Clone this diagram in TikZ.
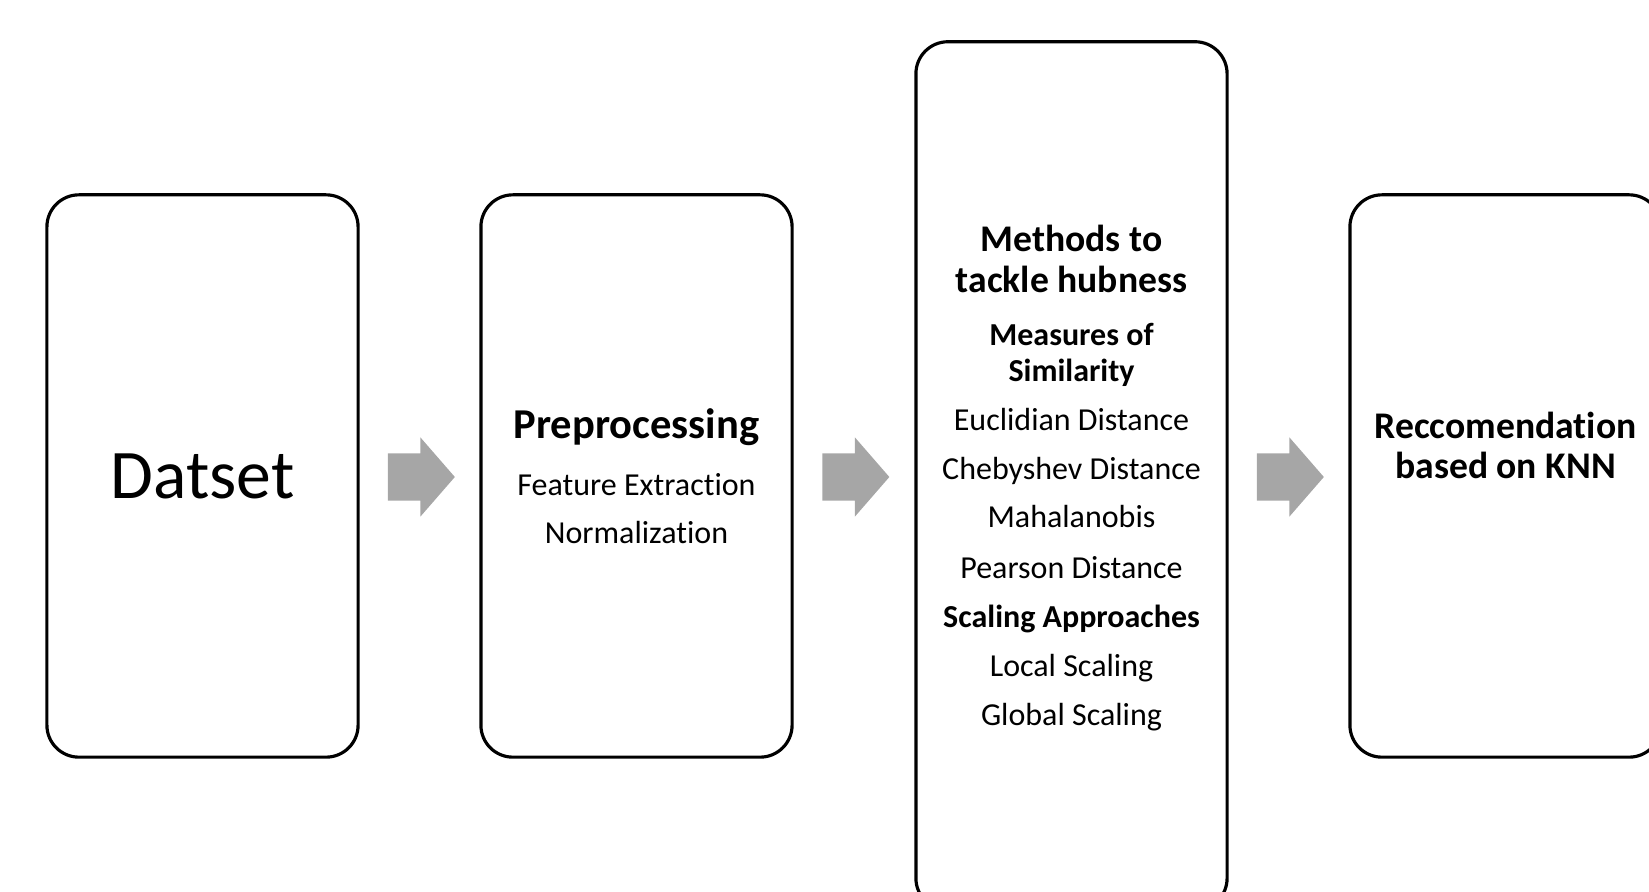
\documentclass[tikz,border=0pt]{standalone}
\usepackage{fontspec}
\setmainfont{Carlito}
\usetikzlibrary{shapes.arrows, positioning, calc}
\definecolor{flowgray}{HTML}{A6A6A6}
% keeps Carlito from joining t and i
\newcommand{\tibreak}{t\kern0pt i}

\begin{document}
\begin{tikzpicture}[
    x=0.01cm, y=-0.01cm,
    stage/.style={draw, line width=0.9pt, rounded corners=0.32cm, minimum width=3.11cm, minimum height=5.62cm, inner sep=0pt},
    flow/.style={single arrow, fill=flowgray, draw=none, minimum height=0.67cm, inner xsep=0pt, inner ysep=0.23cm,
                 single arrow head extend=0.16cm, single arrow tip angle=98},
    head/.style={font=\bfseries\fontsize{10.7}{12}\selectfont, anchor=base},
    sub/.style={font=\bfseries\fontsize{9.1}{11}\selectfont, anchor=base},
    item/.style={font=\fontsize{9.1}{11}\selectfont, anchor=base}
]
    \useasboundingbox (0,0) rectangle (1649,892);

    % the four stages
    \node[stage] (data) at (202.5,476) {};
    \node[stage] (prep) at (636.5,476) {};
    \node[stage, minimum height=8.68cm] (hub) at (1071.5,476) {};
    \node[stage] (knn) at (1505.5,476) {};

    % block arrows between them
    \node[flow] (f1) at ($(data.east)!0.5!(prep.west)+(-8.5,1)$) {};
    \node[flow] (f2) at ($(prep.east)!0.5!(hub.west)+(-8.5,1)$) {};
    \node[flow] (f3) at ($(hub.east)!0.5!(knn.west)+(-8.5,1)$) {};

    % dataset
    \node[font=\fontsize{19.8}{22}\selectfont, anchor=base] (t-data) at (202.5,499) {Datset};

    % preprocessing
    \node[font=\bfseries\fontsize{12.1}{14}\selectfont, anchor=base] (t-prep) at (636.5,439) {Preprocessing};
    \node[item] (p1) at (636.5,496) {Feature Extrac\tibreak on};
    \node[item] (p2) at (636.5,544) {Normaliza\tibreak on};

    % hubness methods
    \node[head] (h1) at (1071.5,252) {Methods to};
    \node[head] (h2) at (1071.5,293) {tackle hubness};
    \node[sub] (s1) at (1071.5,346) {Measures of};
    \node[sub] (s2) at (1071.5,382) {Similarity};
    \node[item] (m1) at (1071.5,431) {Euclidian Distance};
    \node[item] (m2) at (1071.5,480) {Chebyshev Distance};
    \node[item] (m3) at (1071.5,528) {Mahalanobis};
    \node[item] (m4) at (1071.5,579) {Pearson Distance};
    \node[sub] (s3) at (1071.5,628) {Scaling Approaches};
    \node[item] (c1) at (1071.5,677) {Local Scaling};
    \node[item] (c2) at (1071.5,726) {Global Scaling};

    % recommendation
    \node[head] (r1) at (1505.5,439) {Reccomenda\tibreak on};
    \node[head] (r2) at (1505.5,479) {based on KNN};
\end{tikzpicture}
\end{document}
